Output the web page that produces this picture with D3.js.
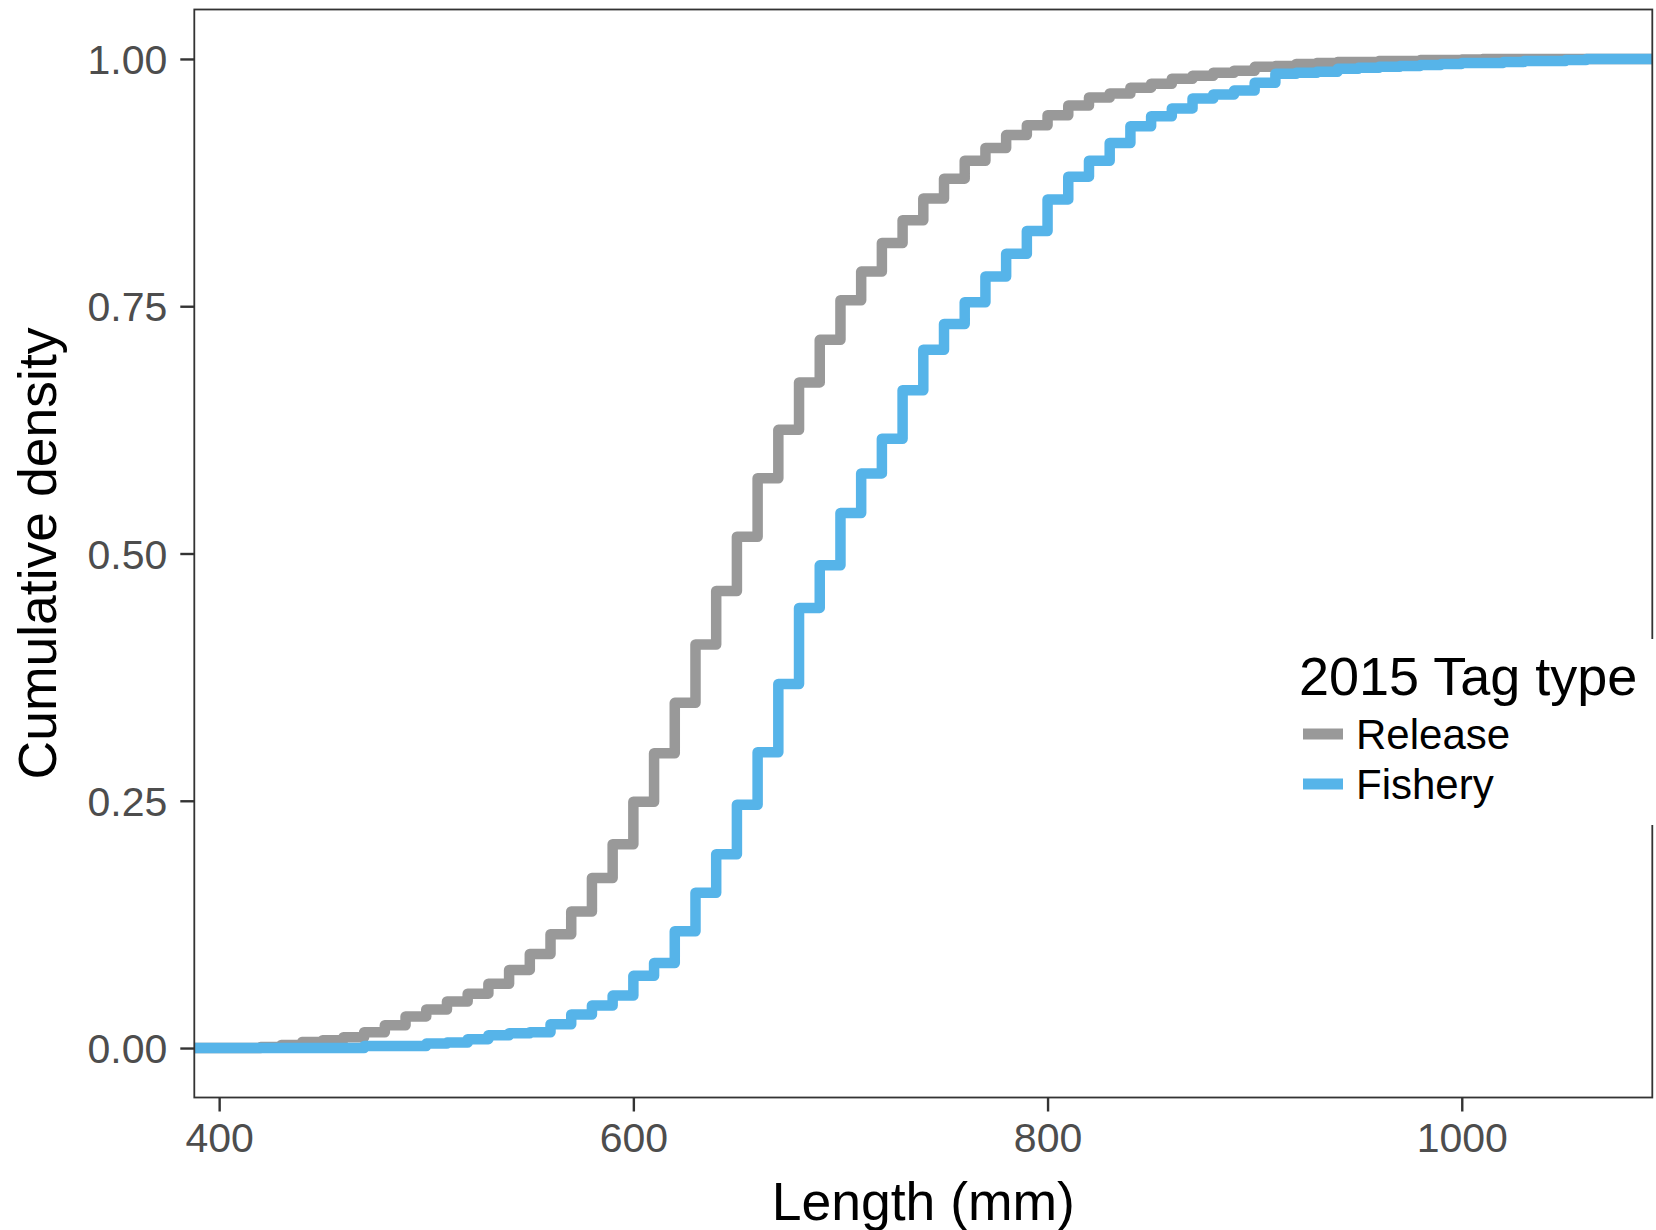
<!DOCTYPE html>
<html>
<head>
<meta charset="utf-8">
<script src="https://cdn.jsdelivr.net/npm/d3@7"></script>
<style>
  html, body { margin: 0; padding: 0; background: #ffffff; }
  svg { display: block; }
  text { font-family: "Liberation Sans", Arial, sans-serif; }
</style>
</head>
<body>
<svg id="chart" width="1656" height="1230"></svg>
<script>
// ---- data ----
const lengths = [420,430,440,450,460,470,480,490,500,510,520,530,540,550,560,570,580,590,600,610,620,630,640,650,660,670,680,690,700,710,720,730,740,750,760,770,780,790,800,810,820,830,840,850,860,870,880,890,900,910,920,930,940,950,960,970,980,990,1000,1010,1020,1030,1040,1050,1060];
const releaseCdf = [0.001,0.003,0.006,0.008,0.011,0.016,0.023,0.032,0.039,0.047,0.055,0.065,0.079,0.095,0.115,0.138,0.172,0.206,0.249,0.298,0.349,0.408,0.462,0.517,0.576,0.625,0.673,0.716,0.756,0.785,0.814,0.837,0.859,0.879,0.897,0.910,0.923,0.933,0.943,0.953,0.961,0.965,0.971,0.975,0.980,0.983,0.986,0.988,0.992,0.993,0.995,0.996,0.997,0.997,0.998,0.998,0.999,0.999,0.9995,1,1,1,1,1,1];
const fisheryCdf = [0,0,0,0,0,0.002,0.002,0.002,0.0045,0.0055,0.009,0.013,0.015,0.016,0.024,0.034,0.043,0.053,0.073,0.086,0.118,0.157,0.196,0.246,0.299,0.368,0.445,0.488,0.541,0.581,0.616,0.665,0.706,0.732,0.754,0.780,0.803,0.826,0.858,0.881,0.897,0.915,0.932,0.942,0.950,0.960,0.964,0.968,0.976,0.985,0.986,0.987,0.990,0.991,0.992,0.993,0.994,0.995,0.996,0.996,0.997,0.998,0.998,0.999,1];
const seriesNames = ["Release", "Fishery"];
const seriesColors = ["#999999", "#56B4E9"];
const xTicks = [400, 600, 800, 1000];
const xTickLabels = ["400", "600", "800", "1000"];
const yTicks = [0, 0.25, 0.5, 0.75, 1];
const yTickLabels = ["0.00", "0.25", "0.50", "0.75", "1.00"];
const legendTitle = "2015 Tag type";
const xTitle = "Length (mm)";
const yTitle = "Cumulative density";

// ---- layout ----
const svg = d3.select("#chart");
const panel = { left: 194.3, right: 1652.3, top: 9.5, bottom: 1097.5 };
const dataMin = d3.min(lengths), dataMax = d3.max(lengths);
const span = dataMax - dataMin;
const x = d3.scaleLinear().domain([dataMin - 0.05 * span, dataMax + 0.05 * span]).range([panel.left, panel.right]);
const y = d3.scaleLinear().domain([-0.05, 1.05]).range([panel.bottom, panel.top]);

svg.append("defs").append("clipPath").attr("id", "clip")
  .append("rect")
  .attr("x", panel.left).attr("y", panel.top)
  .attr("width", panel.right - panel.left).attr("height", panel.bottom - panel.top);

// ---- ECDF lines ----
const series = [releaseCdf, fisheryCdf].map((vals, i) => {
  const pts = [[x.domain()[0], 0]];
  lengths.forEach((L, j) => pts.push([L, vals[j]]));
  pts.push([x.domain()[1], vals[vals.length - 1]]);
  return { name: seriesNames[i], color: seriesColors[i], pts };
});

const line = d3.line().x(d => x(d[0])).y(d => y(d[1])).curve(d3.curveStepAfter);
const g = svg.append("g").attr("clip-path", "url(#clip)");
g.selectAll("path.ecdf").data(series).join("path")
  .attr("class", "ecdf")
  .attr("d", d => line(d.pts))
  .attr("fill", "none")
  .attr("stroke", d => d.color)
  .attr("stroke-width", 10.5)
  .attr("stroke-linejoin", "round")
  .attr("stroke-linecap", "butt");

// ---- panel border ----
svg.append("rect")
  .attr("x", panel.left).attr("y", panel.top)
  .attr("width", panel.right - panel.left).attr("height", panel.bottom - panel.top)
  .attr("fill", "none").attr("stroke", "#333333").attr("stroke-width", 1.8);

// ---- axes ----
const yAxis = d3.axisLeft(y).tickValues(yTicks).tickSize(14).tickPadding(13)
  .tickFormat((d, i) => yTickLabels[i]);
const ya = svg.append("g").attr("transform", `translate(${panel.left},0)`).call(yAxis);
ya.select(".domain").remove();
ya.selectAll(".tick line").attr("stroke", "#333333").attr("stroke-width", 2.4);
ya.selectAll(".tick text").attr("fill", "#4D4D4D").attr("font-size", 41)
  .attr("font-family", "Liberation Sans, Arial, sans-serif").attr("dy", "0.36em");

const xAxis = d3.axisBottom(x).tickValues(xTicks).tickSize(14).tickPadding(11)
  .tickFormat((d, i) => xTickLabels[i]);
const xa = svg.append("g").attr("transform", `translate(0,${panel.bottom})`).call(xAxis);
xa.select(".domain").remove();
xa.selectAll(".tick line").attr("stroke", "#333333").attr("stroke-width", 2.4);
xa.selectAll(".tick text").attr("fill", "#4D4D4D").attr("font-size", 41)
  .attr("font-family", "Liberation Sans, Arial, sans-serif").attr("dy", "0.71em");

// ---- axis titles ----
svg.append("text")
  .attr("x", (panel.left + panel.right) / 2).attr("y", 1220)
  .attr("text-anchor", "middle").attr("font-size", 53.5).attr("fill", "#000000")
  .text(xTitle);
svg.append("text")
  .attr("transform", `translate(56,${(panel.top + panel.bottom) / 2}) rotate(-90)`)
  .attr("text-anchor", "middle").attr("font-size", 53.5).attr("fill", "#000000")
  .text(yTitle);

// ---- legend ----
const leg = svg.append("g");
leg.append("rect").attr("x", 1280).attr("y", 639).attr("width", 376).attr("height", 186).attr("fill", "#ffffff");
leg.append("text").attr("x", 1299).attr("y", 695).attr("font-size", 54).attr("fill", "#000000").text(legendTitle);
series.forEach((s, i) => {
  const cy = 734 + i * 50;
  leg.append("line").attr("x1", 1303).attr("x2", 1343).attr("y1", cy).attr("y2", cy)
    .attr("stroke", s.color).attr("stroke-width", 11);
  leg.append("text").attr("x", 1356).attr("y", cy + 15).attr("font-size", 42).attr("fill", "#000000").text(s.name);
});
</script>
</body>
</html>
